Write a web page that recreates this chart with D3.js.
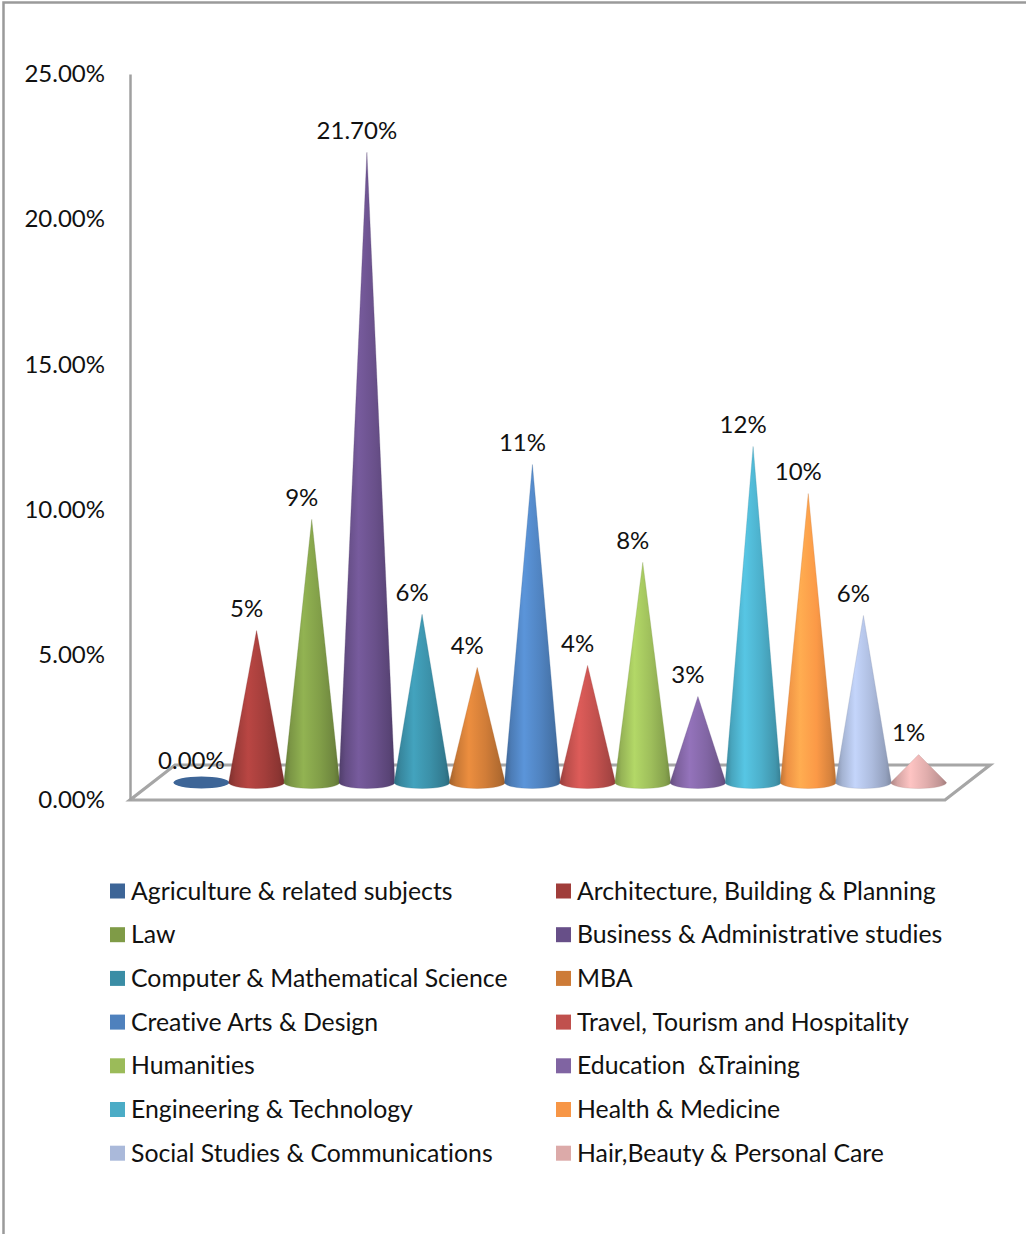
<!DOCTYPE html>
<html>
<head>
<meta charset="utf-8">
<script src="https://cdn.jsdelivr.net/npm/d3@7"></script>
<style>
  html, body { margin: 0; padding: 0; background: #fff; }
  svg { display: block; }
  text { font-family: Lato, "Open Sans", sans-serif; fill: #111; font-variant-ligatures: none; }
</style>
</head>
<body>
<div id="chart"></div>
<script>
// Share of enrolment by subject area
const categories = [
  "Agriculture & related subjects",
  "Architecture, Building & Planning",
  "Law",
  "Business & Administrative studies",
  "Computer & Mathematical Science",
  "MBA",
  "Creative Arts & Design",
  "Travel, Tourism and Hospitality",
  "Humanities",
  "Education  &Training",
  "Engineering & Technology",
  "Health & Medicine",
  "Social Studies & Communications",
  "Hair,Beauty & Personal Care"
];
const values = [0, 0.0523, 0.0906, 0.217, 0.0579, 0.0396, 0.1095, 0.0403, 0.0758, 0.0296, 0.1157, 0.0995, 0.0575, 0.0096];
// decimals shown in each data label
const labelDecimals = [2, 0, 0, 2, 0, 0, 0, 0, 0, 0, 0, 0, 0, 0];
const colors = [
  "#3d6597", "#a03d3a", "#7f9b47", "#674f88", "#3a8da5", "#cd7b37",
  "#4f81bd", "#c0504d", "#9bbb59", "#8064a2", "#4bacc6", "#f79646",
  "#aab9da", "#dcaaa9"
];
const yTicks = [0, 0.05, 0.10, 0.15, 0.20, 0.25];

const W = 1026, H = 1234;
const svg = d3.select("#chart").append("svg").attr("width", W).attr("height", H);

// outer frame (open on the right and bottom)
svg.append("path")
  .attr("d", `M3.5,${H + 5}V2.5H${W + 5}`)
  .attr("fill", "none").attr("stroke", "#9a9a9a").attr("stroke-width", 2.5);

// value scale on the front plane; floor depth shift for the back plane
const y = d3.scaleLinear().domain([0, 0.25]).range([800, 74]);
const depth = { dx: 45, dy: -35 };
const x = d3.scaleBand().domain(categories).range([173.8, 946.2]).padding(0);

// floor slab
const floorFront = [130, 945];
const floorPts = [
  [floorFront[0], y(0)], [floorFront[1], y(0)],
  [floorFront[1] + depth.dx, y(0) + depth.dy], [floorFront[0] + depth.dx, y(0) + depth.dy]
];
svg.append("polygon")
  .attr("points", floorPts.map(p => p.join(",")).join(" "))
  .attr("fill", "#fff").attr("stroke", "#a6a6a6").attr("stroke-width", 3.2)
  .attr("stroke-linejoin", "miter");

// value axis
const axis = svg.append("g").attr("transform", "translate(130,0)")
  .call(d3.axisLeft(y).tickValues(yTicks).tickFormat(d3.format(".2%"))
    .tickSize(0).tickSizeOuter(0).tickPadding(25));
axis.select(".domain").attr("stroke", "#a0a0a0").attr("stroke-width", 2.5);
axis.selectAll("text").attr("font-size", 24).style("font-family", "Lato, sans-serif").attr("fill", "#111");

// cone shading gradients
const defs = svg.append("defs");
colors.forEach((c, i) => {
  const base = d3.color(c);
  const g = defs.append("linearGradient").attr("id", "cone" + i)
    .attr("x1", "0").attr("x2", "1").attr("y1", "0").attr("y2", "0");
  g.append("stop").attr("offset", "0").attr("stop-color", base.darker(0.7));
  g.append("stop").attr("offset", "0.12").attr("stop-color", base.darker(0.1));
  g.append("stop").attr("offset", "0.35").attr("stop-color", base.brighter(0.4));
  g.append("stop").attr("offset", "0.65").attr("stop-color", base.brighter(0.05));
  g.append("stop").attr("offset", "0.9").attr("stop-color", base.darker(0.4));
  g.append("stop").attr("offset", "1").attr("stop-color", base.darker(0.85));
});

// cones sit at mid depth of the floor
const mid = { dx: 0, dy: depth.dy / 2 };
const rx = x.bandwidth() / 2 + 0.3, ry = 6;
const baseY = y(0) + mid.dy;

const cones = svg.append("g");
categories.forEach((cat, i) => {
  const cx = x(cat) + x.bandwidth() / 2 + mid.dx;
  const v = values[i];
  const tipY = y(v) + mid.dy;
  if (v === 0) {
    cones.append("ellipse")
      .attr("cx", cx).attr("cy", baseY).attr("rx", rx).attr("ry", ry)
      .attr("fill", colors[i]);
  } else {
    const d = `M${cx},${tipY}L${cx - rx},${baseY}A${rx},${ry} 0 0 0 ${cx + rx},${baseY}Z`;
    cones.append("path").attr("d", d)
      .attr("fill", `url(#cone${i})`)
      .attr("stroke", d3.color(colors[i]).darker(0.6)).attr("stroke-opacity", 0.35)
      .attr("stroke-width", 0.8);
  }
  const fmt = d3.format(`.${labelDecimals[i]}%`);
  svg.append("text")
    .attr("x", cx - 10).attr("y", tipY - 22).attr("dy", "0.35em")
    .attr("text-anchor", "middle").attr("font-size", 24)
    .text(fmt(v));
});

// legend in two columns
const legend = svg.append("g");
const colX = [110, 556], rowY0 = 891, rowStep = 43.7;
categories.forEach((cat, i) => {
  const col = i % 2, row = Math.floor(i / 2);
  const gy = rowY0 + row * rowStep;
  legend.append("rect")
    .attr("x", colX[col]).attr("y", gy - 7.5).attr("width", 15).attr("height", 15)
    .attr("fill", colors[i]);
  legend.append("text")
    .attr("x", colX[col] + 21).attr("y", gy).attr("dy", "0.35em")
    .attr("font-size", 24.8).style("white-space", "pre")
    .text(cat);
});
</script>
</body>
</html>
